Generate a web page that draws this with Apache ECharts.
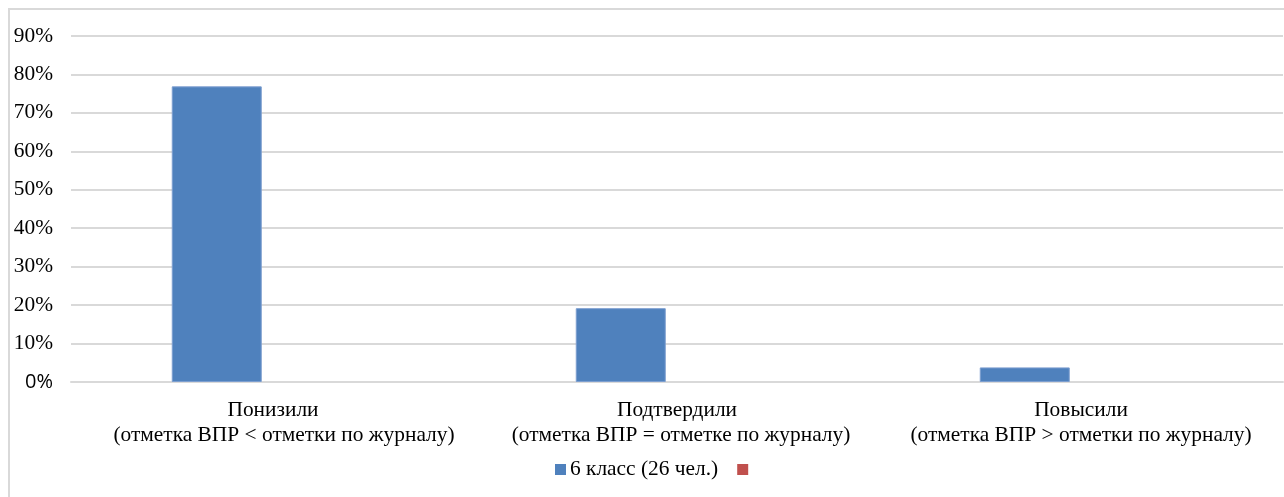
<!DOCTYPE html>
<html><head><meta charset="utf-8">
<script src="https://cdn.jsdelivr.net/npm/echarts@6/dist/echarts.min.js"></script>
<style>html,body{margin:0;padding:0;background:#fff}#c{width:1284px;height:497px}</style>
</head><body><div id="c"></div>
<script>
const categories = [
  'Понизили\n(отметка ВПР < отметки по журналу)',
  'Подтвердили\n(отметка ВПР = отметке по журналу)',
  'Повысили\n(отметка ВПР > отметки по журналу)'
];
const seriesName = '6 класс (26 чел.)';
const seriesValues = [76.9, 19.2, 3.8];
const series2Name = ' ';
const series2Values = [null, null, null];
const yTicks = [0, 10, 20, 30, 40, 50, 60, 70, 80, 90];

const chart = echarts.init(document.getElementById('c'), null, {renderer: 'canvas'});
const serif = '"Liberation Serif", "Times New Roman", serif';
const fs = 21.4;
const lineShift = [22, 8, 0];
chart.setOption({
  animation: false,
  textStyle: {fontFamily: serif},
  graphic: [{type: 'rect', shape: {x: 9, y: 9, width: 1300, height: 520}, style: {fill: 'none', stroke: '#d9d9d9', lineWidth: 2}, silent: true}],
  grid: {left: 71, right: 1, top: 36, bottom: 115, containLabel: false},
  legend: {
    left: 555, top: 459, padding: 0, itemWidth: 11, itemHeight: 11, itemGap: 19,
    icon: 'rect',
    itemStyle: {borderWidth: 0},
    textStyle: {fontFamily: serif, fontSize: fs, color: '#000', padding: [0,0,0,-1]},
    data: [seriesName, series2Name]
  },
  xAxis: {
    type: 'category', data: categories,
    axisLine: {show: true, lineStyle: {color: '#d9d9d9', width: 2}},
    axisTick: {show: false},
    axisLabel: {
      fontFamily: serif, fontSize: fs, color: '#000', lineHeight: 25, margin: 16, interval: 0,
      formatter: (v, i) => {
        const parts = v.split('\n');
        return '{a|' + parts[0] + '}\n{b' + i + '|' + parts[1] + '}';
      },
      rich: {
        a: {fontFamily: serif, fontSize: fs, color: '#000', lineHeight: 25},
        b0: {fontFamily: serif, fontSize: fs, color: '#000', lineHeight: 25, padding: [0, 0, 0, lineShift[0]]},
        b1: {fontFamily: serif, fontSize: fs, color: '#000', lineHeight: 25, padding: [0, 0, 0, lineShift[1]]},
        b2: {fontFamily: serif, fontSize: fs, color: '#000', lineHeight: 25, padding: [0, 0, 0, lineShift[2]]}
      }
    }
  },
  yAxis: {
    type: 'value', min: yTicks[0], max: yTicks[yTicks.length-1], interval: 10,
    axisLine: {show: false}, axisTick: {show: false},
    splitLine: {lineStyle: {color: '#d9d9d9', width: 2}},
    axisLabel: {
      margin: 18, fontFamily: serif, fontSize: fs, color: '#000',
      formatter: v => v === 0 ? '{s|0%}' : v + '%',
      rich: {s: {fontFamily: '"Open Sans", "DejaVu Sans", sans-serif', fontSize: 20, color: '#000'}}
    }
  },
  series: [
    {name: seriesName, type: 'bar', data: seriesValues, barWidth: 90, barGap: '25%',
     itemStyle: {color: '#4f81bd', borderColor: '#7d9fd0', borderWidth: 1}},
    {name: series2Name, type: 'bar', data: series2Values, barWidth: 90, barGap: '25%',
     itemStyle: {color: '#c0504d'}}
  ]
});
</script></body></html>
